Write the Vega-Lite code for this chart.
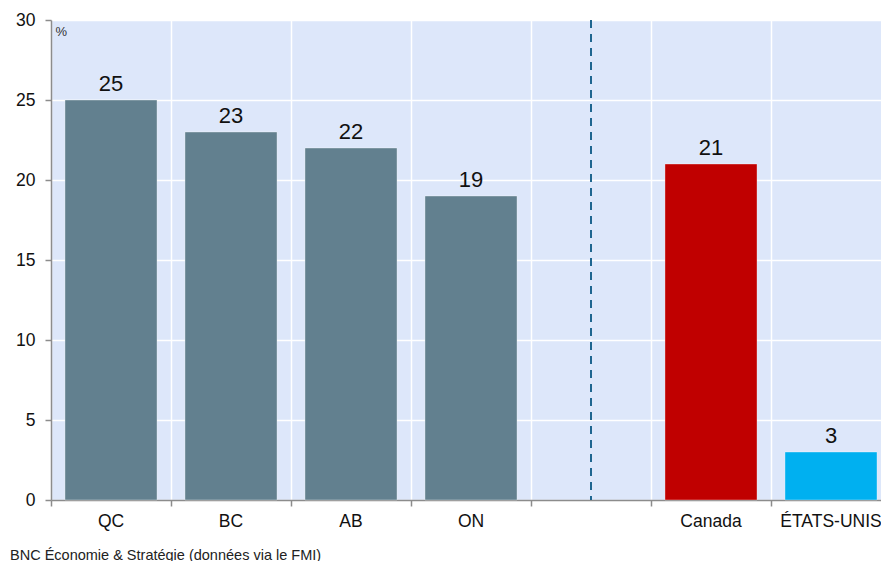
{
  "$schema": "https://vega.github.io/schema/vega-lite/v6.json",
  "autosize": {"type": "none"},
  "padding": {"left": 51, "top": 20, "right": 0, "bottom": 61},
  "width": 840,
  "height": 480,
  "background": "white",
  "config": {
    "font": "Liberation Sans",
    "view": {"fill": "#dde7fa", "stroke": null},
    "axis": {
      "domainColor": "#8c8c8c",
      "domainWidth": 1.5,
      "tickColor": "#8c8c8c",
      "tickWidth": 1.5,
      "gridColor": "#ffffff",
      "gridWidth": 1.5,
      "labelColor": "#111111",
      "labelFont": "Liberation Sans"
    }
  },
  "title": {
    "text": "BNC Économie & Stratégie (données via le FMI)",
    "orient": "bottom",
    "anchor": "start",
    "frame": "group",
    "dx": -41,
    "offset": 19,
    "fontSize": 14.5,
    "fontWeight": "normal",
    "color": "#222222",
    "font": "Liberation Sans"
  },
  "datasets": {
    "bars": [
      {"region": "QC", "value": 25, "group": "prov"},
      {"region": "BC", "value": 23, "group": "prov"},
      {"region": "AB", "value": 22, "group": "prov"},
      {"region": "ON", "value": 19, "group": "prov"},
      {"region": "Canada", "value": 21, "group": "ca"},
      {"region": "ÉTATS-UNIS", "value": 3, "group": "us"}
    ],
    "divider": [{"region": " "}]
  },
  "layer": [
    {
      "data": {"name": "bars"},
      "mark": {"type": "bar", "width": {"band": 0.767}, "strokeWidth": 1, "strokeOpacity": 0.35, "stroke": "#ffffff"},
      "encoding": {
        "x": {
          "field": "region",
          "type": "nominal",
          "sort": null,
          "scale": {
            "domain": ["QC", "BC", "AB", "ON", " ", "Canada", "ÉTATS-UNIS"],
            "paddingInner": 0,
            "paddingOuter": 0
          },
          "axis": {
            "title": null,
            "labelAngle": 0,
            "labelFontSize": 17.5,
            "labelPadding": 6,
            "tickSize": 6,
            "bandPosition": 0,
            "grid": true,
            "labelOverlap": false
          }
        },
        "y": {
          "field": "value",
          "type": "quantitative",
          "scale": {"domain": [0, 30], "nice": false},
          "axis": {
            "values": [0, 5, 10, 15, 20, 25, 30],
            "title": "%",
            "titleAngle": 0,
            "titleX": 4,
            "titleY": 5,
            "titleAlign": "left",
            "titleBaseline": "top",
            "titleFontSize": 13,
            "titleFontWeight": "normal",
            "titleColor": "#333333",
            "labelFontSize": 17.5,
            "labelPadding": 10,
            "tickSize": 6,
            "grid": true
          }
        },
        "color": {
          "field": "group",
          "type": "nominal",
          "scale": {"domain": ["prov", "ca", "us"], "range": ["#62808f", "#c00000", "#00b0f0"]},
          "legend": null
        }
      }
    },
    {
      "data": {"name": "bars"},
      "mark": {"type": "text", "baseline": "alphabetic", "dy": -9, "fontSize": 22, "color": "#111111"},
      "encoding": {
        "x": {"field": "region", "type": "nominal", "sort": null},
        "y": {"field": "value", "type": "quantitative"},
        "text": {"field": "value", "type": "quantitative"}
      }
    },
    {
      "data": {"name": "divider"},
      "mark": {"type": "rule", "strokeDash": [8, 6], "strokeWidth": 2, "color": "#1f6690"},
      "encoding": {
        "x": {"field": "region", "type": "nominal", "sort": null}
      }
    }
  ]
}
